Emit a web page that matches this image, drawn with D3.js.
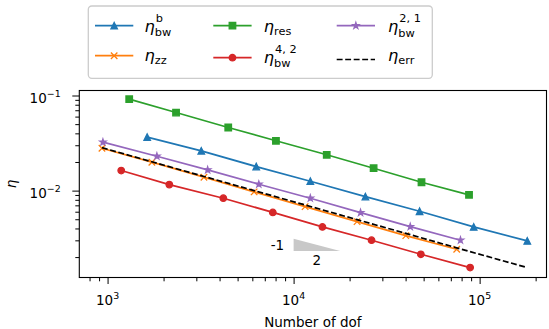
<!DOCTYPE html>
<html><head><meta charset="utf-8">
<script src="https://cdn.jsdelivr.net/npm/d3@7"></script>
<style>body{margin:0;background:#fff;} svg{display:block;}</style>
</head><body>
<svg id="chart" width="549" height="329"></svg>
<script>
// ---- data ----
const dofBwB = [1633, 3190, 6296, 12300, 24320, 47550, 92900, 180400];
const etaBwB = [0.0365, 0.0262, 0.0179, 0.01256, 0.00865, 0.00607, 0.00415, 0.00296];
const dofZz = [933, 1730, 3296, 6134, 11530, 21930, 40100, 75300];
const etaZz = [0.0279, 0.0199, 0.01384, 0.00969, 0.00679, 0.00472, 0.00336, 0.00242];
const dofRes = [1307, 2334, 4453, 8036, 15070, 26920, 48700, 87700];
const etaRes = [0.0916, 0.0662, 0.0461, 0.0334, 0.0238, 0.0172, 0.01225, 0.00902];
const dofBw42 = [1184, 2147, 4190, 7730, 14290, 26240, 48300, 88900];
const etaBw42 = [0.01626, 0.01156, 0.00832, 0.00590, 0.00415, 0.00301, 0.00214, 0.00155];
const dofBw21 = [944, 1841, 3451, 6500, 12300, 22900, 42370, 78900];
const etaBw21 = [0.0323, 0.0230, 0.01652, 0.01167, 0.00832, 0.00586, 0.00418, 0.00301];
const dofErr = [933, 1730, 3296, 6134, 11530, 21930, 40100, 75300, 180400];
const etaErr = [0.0283, 0.0201, 0.01409, 0.0100, 0.00706, 0.00495, 0.00355, 0.00250, 0.00155];

const xMajorTicks = [1e3, 1e4, 1e5];
const xMajorExp = ["3", "4", "5"];
const xMinorTicks = [800, 900, 2000, 3000, 4000, 5000, 6000, 7000, 8000, 9000,
  20000, 30000, 40000, 50000, 60000, 70000, 80000, 90000, 200000];
const yMajorTicks = [0.1, 0.01];
const yMajorExp = ["\u22121", "\u22122"];
const yMinorTicks = [0.002, 0.003, 0.004, 0.005, 0.006, 0.007, 0.008, 0.009,
  0.02, 0.03, 0.04, 0.05, 0.06, 0.07, 0.08, 0.09];

const slopeTriX = [1e4, 17800];
const slopeTriY = [0.00312, 0.00232];
const slopeLabels = ["-1", "2"];
const xLabel = "Number of dof";
const yLabel = "\u03b7";

const FONT = "DejaVu Sans";
const svg = d3.select("#chart").attr("font-family", FONT);
const M = {left: 79.3, right: 546.5, top: 90.5, bottom: 277.5};
const x = d3.scaleLog().domain([704.7, 228800]).range([M.left, M.right]);
const y = d3.scaleLog().domain([0.001220, 0.11289]).range([M.bottom, M.top]);

const FS = 13.5;

function measure(str, size, italic) {
  const t = svg.append("text").attr("font-size", size)
    .attr("font-style", italic ? "italic" : "normal").text(str);
  const w = t.node().getComputedTextLength();
  t.remove();
  return w;
}

// one text element with tspans for base, subscript and superscript
function mathLabel(parent, o) {
  const ss = o.size * 0.7;
  const w = measure(o.base, o.size, o.italic);
  const wSub = o.sub ? measure(o.sub, ss, false) : 0;
  const supX = w + (o.supDx || 0);
  const wSup = o.sup ? measure(o.sup, ss, false) : 0;
  const maxW = Math.max(w, w + wSub, o.sup ? supX + wSup : 0);
  const shift = o.anchor === "end" ? -maxW : o.anchor === "middle" ? -maxW / 2 : 0;
  const x0 = o.x + shift;
  const t = parent.append("text").attr("x", x0).attr("y", o.y);
  t.append("tspan").attr("font-size", o.size)
    .attr("font-style", o.italic ? "italic" : "normal").text(o.base);
  if (o.sub) {
    t.append("tspan").attr("x", x0 + w).attr("y", o.y + o.subDy).attr("font-size", ss).text(o.sub);
  }
  if (o.sup) {
    t.append("tspan").attr("x", x0 + supX).attr("y", o.y - o.supDy).attr("font-size", ss).text(o.sup);
  }
  return t;
}

// clip
svg.append("clipPath").attr("id", "clip").append("rect")
  .attr("x", M.left).attr("y", M.top).attr("width", M.right - M.left).attr("height", M.bottom - M.top);

// slope triangle
const tri = [[slopeTriX[0], slopeTriY[0]], [slopeTriX[0], slopeTriY[1]], [slopeTriX[1], slopeTriY[1]]];
svg.append("path").attr("d", "M" + tri.map(p => [x(p[0]), y(p[1])].join(",")).join("L") + "Z")
  .attr("fill", "#c8c8c8");
svg.append("text").attr("x", x(slopeTriX[0]) - 9.5).attr("y", y(slopeTriY[0]) + 11.5)
  .attr("text-anchor", "end").attr("font-size", FS).text(slopeLabels[0]);
svg.append("text").attr("x", x(Math.sqrt(slopeTriX[0] * slopeTriX[1]))).attr("y", y(slopeTriY[1]) + 14)
  .attr("text-anchor", "middle").attr("font-size", FS).text(slopeLabels[1]);

// markers
const MS = 6.5, MEW = 1.3;
function markerPath(type) {
  const r = MS / 2;
  if (type === "tri") return `M0,${-r}L${-r},${r}L${r},${r}Z`;
  if (type === "sq") return `M${-r},${-r}H${r}V${r}H${-r}Z`;
  if (type === "circ") return d3.symbol(d3.symbolCircle, Math.PI * r * r)();
  if (type === "x") return `M${-r},${-r}L${r},${r}M${-r},${r}L${r},${-r}`;
  if (type === "star") {
    const pts = [];
    for (let i = 0; i < 10; i++) {
      const rad = i % 2 === 0 ? r : r * 0.381966;
      const a = -Math.PI / 2 + i * Math.PI / 5;
      pts.push([rad * Math.cos(a), rad * Math.sin(a)]);
    }
    return "M" + pts.map(p => p.join(",")).join("L") + "Z";
  }
  return "";
}

const series = [
  {dof: dofBwB, eta: etaBwB, color: "#1f77b4", marker: "tri"},
  {dof: dofZz, eta: etaZz, color: "#ff7f0e", marker: "x"},
  {dof: dofRes, eta: etaRes, color: "#2ca02c", marker: "sq"},
  {dof: dofBw42, eta: etaBw42, color: "#d62728", marker: "circ"},
  {dof: dofBw21, eta: etaBw21, color: "#9467bd", marker: "star"},
  {dof: dofErr, eta: etaErr, color: "#000000", marker: null, dash: "5.9,2.6"}
];
const LW = 1.7;
const line = d3.line().x(d => x(d[0])).y(d => y(d[1]));
const plot = svg.append("g").attr("clip-path", "url(#clip)");
series.forEach(s => {
  const pts = s.dof.map((d, i) => [d, s.eta[i]]);
  plot.append("path").attr("d", line(pts)).attr("fill", "none")
    .attr("stroke", s.color).attr("stroke-width", LW)
    .attr("stroke-dasharray", s.dash || null);
  if (s.marker) {
    plot.selectAll(null).data(pts).enter().append("path")
      .attr("transform", d => `translate(${x(d[0])},${y(d[1])})`)
      .attr("d", markerPath(s.marker))
      .attr("fill", s.marker === "x" ? "none" : s.color)
      .attr("stroke", s.color).attr("stroke-width", MEW);
  }
});

// axes ticks
function styleAxis(g) { g.select(".domain").remove(); g.selectAll("line").attr("stroke", "#000").attr("stroke-width", 1); }
svg.append("g").attr("transform", `translate(0,${M.bottom})`)
  .call(d3.axisBottom(x).tickValues(xMajorTicks).tickSize(6.5).tickFormat(""))
  .call(styleAxis);
svg.append("g").attr("transform", `translate(0,${M.bottom})`)
  .call(d3.axisBottom(x).tickValues(xMinorTicks).tickSize(3.8).tickFormat(""))
  .call(styleAxis);
svg.append("g").attr("transform", `translate(${M.left},0)`)
  .call(d3.axisLeft(y).tickValues(yMajorTicks).tickSize(7).tickFormat(""))
  .call(styleAxis);
svg.append("g").attr("transform", `translate(${M.left},0)`)
  .call(d3.axisLeft(y).tickValues(yMinorTicks).tickSize(4).tickFormat(""))
  .call(styleAxis);

// spines
svg.append("rect").attr("x", M.left).attr("y", M.top).attr("width", M.right - M.left)
  .attr("height", M.bottom - M.top).attr("fill", "none").attr("stroke", "#000").attr("stroke-width", 1.1);

// tick labels
xMajorTicks.forEach((v, i) => mathLabel(svg, {x: x(v), y: M.bottom + 27.5, base: "10", size: FS,
  sup: xMajorExp[i], supDy: 5.8, anchor: "middle"}));
yMajorTicks.forEach((v, i) => mathLabel(svg, {x: 60.7, y: y(v) + 7, base: "10", size: FS,
  sup: yMajorExp[i], supDy: 5.8, anchor: "end"}));

// axis labels
svg.append("text").attr("x", (M.left + M.right) / 2).attr("y", 326.5).attr("text-anchor", "middle")
  .attr("font-size", FS).text(xLabel);
svg.append("text").attr("transform", "translate(16,184) rotate(-90)").attr("text-anchor", "middle")
  .attr("font-size", FS).attr("font-style", "italic").text(yLabel);

// legend
const LF = 16.2;
const legend = svg.append("g");
legend.append("rect").attr("x", 88.3).attr("y", 6).attr("width", 344).attr("height", 72.3)
  .attr("rx", 3.5).attr("fill", "#fff").attr("fill-opacity", 0.8)
  .attr("stroke", "#cccccc").attr("stroke-width", 1.3);
const legItems = [
  {s: 0, hx: 95, hy: 25.7, tx: 144.5, ty: 32.3, sub: "bw", subDy: 3.6, sup: "b", supDy: 10},
  {s: 1, hx: 95, hy: 55.7, tx: 144.5, ty: 61.2, sub: "zz", subDy: 2.6},
  {s: 2, hx: 213.3, hy: 25.7, tx: 263.8, ty: 32.3, sub: "res", subDy: 2.6},
  {s: 3, hx: 213.3, hy: 57.7, tx: 263.8, ty: 62.5, sub: "bw", subDy: 4.5, sup: "4, 2", supDy: 9.5},
  {s: 4, hx: 336.7, hy: 25.7, tx: 388, ty: 32.3, sub: "bw", subDy: 4.5, sup: "2, 1", supDy: 10},
  {s: 5, hx: 336.7, hy: 59.5, tx: 388, ty: 61.2, sub: "err", subDy: 2.6}
];
legItems.forEach(it => {
  const s = series[it.s];
  legend.append("line").attr("x1", it.hx).attr("x2", it.hx + 38.3).attr("y1", it.hy).attr("y2", it.hy)
    .attr("stroke", s.color).attr("stroke-width", LW).attr("stroke-dasharray", s.dash || null);
  if (s.marker) {
    legend.append("path").attr("transform", `translate(${it.hx + 19.15},${it.hy})`)
      .attr("d", markerPath(s.marker)).attr("fill", s.marker === "x" ? "none" : s.color)
      .attr("stroke", s.color).attr("stroke-width", MEW);
  }
  mathLabel(legend, {x: it.tx, y: it.ty, base: "\u03b7", italic: true, size: LF,
    sub: it.sub, subDy: it.subDy, sup: it.sup, supDy: it.supDy, supDx: 1});
});
</script>
</body></html>
